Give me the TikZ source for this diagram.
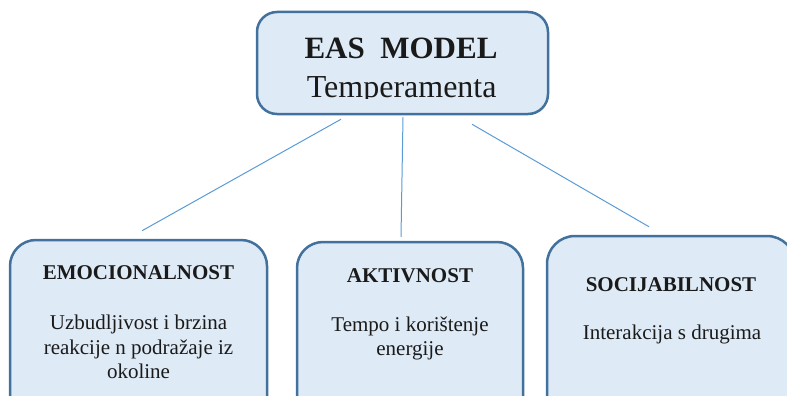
\documentclass[tikz,border=0pt]{standalone}
\usepackage{fontspec}
\setmainfont{Liberation Serif}
\usetikzlibrary{calc}
\definecolor{boxfill}{HTML}{DEEAF6}
\definecolor{boxdraw}{HTML}{41719C}
\definecolor{linkc}{HTML}{5B9BD5}
\definecolor{txt}{HTML}{1A1A1A}
\begin{document}
\begin{tikzpicture}[x=1pt,y=-1pt,
  box/.style={draw=boxdraw, fill=boxfill, line width=2.5pt, rectangle, inner sep=0pt},
  link/.style={draw=linkc, line width=1pt},
  ttl/.style={font=\fontsize{21}{25}\selectfont\bfseries, text=txt, anchor=base, inner sep=0pt},
  body/.style={font=\fontsize{21}{25}\selectfont, text=txt, anchor=base, inner sep=0pt},
]
\useasboundingbox (0,0) rectangle (787,396);
\clip (0,0) rectangle (787,396);

% boxes
\node[box, rounded corners=20pt, minimum width=291pt, minimum height=102pt] (top) at (402.5,63) {};
\node[box, rounded corners=26pt, minimum width=257pt, minimum height=190pt] (emo) at (138.5,335) {};
\node[box, rounded corners=26pt, minimum width=226pt, minimum height=188pt] (akt) at (410,336) {};
\node[box, rounded corners=28pt, minimum width=248pt, minimum height=194pt] (soc) at (671,333) {};

% top texts
\node[anchor=base, inner sep=0pt, text=txt, font=\fontsize{31}{36}\selectfont\bfseries] (eas) at (401,58.3) {EAS~~MODEL};
\begin{scope}
  \clip (257,12) rectangle (548,98.6);
  \node[anchor=base, inner sep=0pt, text=txt, font=\fontsize{32}{36}\selectfont] (temp) at (401.7,97.7) {Temperamenta};
\end{scope}

% bottom texts
\node[ttl] (emoT) at (138.5,279) {EMOCIONALNOST};
\node[body] (emo1) at (138.5,329) {Uzbudljivost i brzina};
\node[body] (emo2) at (138.5,354) {reakcije n podražaje iz};
\node[body] (emo3) at (138.5,378) {okoline};

\node[ttl] (aktT) at (410,282.7) {AKTIVNOST};
\node[body] (akt1) at (410,331.7) {Tempo i korištenje};
\node[body] (akt2) at (410,355.5) {energije};

\node[ttl] (socT) at (671,291) {SOCIJABILNOST};
\node[body] (soc1) at (672,339) {Interakcija s drugima};

% connectors (with gaps, as in the reference)
\coordinate (l1a) at ([shift={(-61.5,4)}]top.south);
\coordinate (l1b) at ([shift={(3.5,-8)}]emo.north);
\coordinate (l2a) at ([shift={(0.5,2)}]top.south);
\coordinate (l2b) at ([shift={(-9,-4)}]akt.north);
\coordinate (l3a) at ([shift={(69.5,9)}]top.south);
\coordinate (l3b) at ([shift={(-22,-8)}]soc.north);
\draw[link] (l1a) -- (l1b);
\draw[link] (l2a) -- (l2b);
\draw[link] (l3a) -- (l3b);
\end{tikzpicture}
\end{document}
